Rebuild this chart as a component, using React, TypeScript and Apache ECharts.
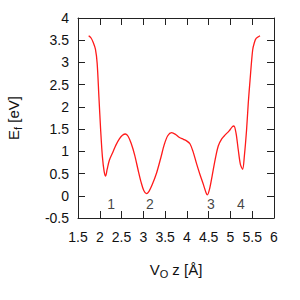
import React, { useEffect, useRef } from "react";
import * as echarts from "echarts";

const zValues = [
  1.745, 1.80, 1.85, 1.90, 1.94, 1.98, 2.02, 2.06, 2.10, 2.135, 2.17, 2.22, 2.30, 2.37, 2.45, 2.52,
  2.59, 2.65, 2.72, 2.80, 2.88, 2.95, 3.01, 3.07, 3.13, 3.20, 3.30, 3.40, 3.48, 3.56, 3.65, 3.74,
  3.83, 3.92, 4.00, 4.07, 4.14, 4.22, 4.30, 4.38, 4.44, 4.47, 4.52, 4.58, 4.65, 4.72, 4.80, 4.88,
  4.97, 5.04, 5.08, 5.13, 5.18, 5.23, 5.28, 5.32, 5.37, 5.41, 5.45, 5.51, 5.55, 5.59, 5.68,
];
const efValues = [
  3.6, 3.55, 3.45, 3.3, 2.98, 2.23, 1.48, 0.88, 0.55, 0.445, 0.6, 0.8, 0.98, 1.14, 1.28, 1.36,
  1.39, 1.34, 1.18, 0.92, 0.58, 0.3, 0.12, 0.05, 0.1, 0.24, 0.5, 0.85, 1.15, 1.35, 1.42, 1.38,
  1.31, 1.27, 1.23, 1.17, 1.0, 0.73, 0.48, 0.25, 0.07, 0.02, 0.15, 0.45, 0.82, 1.12, 1.28, 1.37,
  1.46, 1.55, 1.57, 1.40, 1.03, 0.7, 0.595, 0.9, 1.48, 2.1, 2.6, 3.28, 3.45, 3.54, 3.6,
];
const siteLabels = ["1", "2", "3", "4"];
const siteX = [2.26, 3.15, 4.55, 5.24];
const siteY = [-0.19, -0.19, -0.19, -0.19];

export default function App() {
  const ref = useRef<HTMLDivElement>(null);
  useEffect(() => {
    if (!ref.current) return;
    const chart = echarts.init(ref.current, null, { renderer: "svg" });
    const font = "Liberation Sans, Arial, sans-serif";
    const axisLine = { show: true, onZero: false, lineStyle: { color: "#222", width: 1 } };
    const tick = { show: true, inside: true, length: 7, lineStyle: { color: "#222" } };
    const nameRich = {
      m: { fontSize: 15, fontFamily: font, color: "#111" },
      s: { fontSize: 11, fontFamily: font, color: "#111", verticalAlign: "bottom", padding: [9, 0, 0, 0] },
    };
    chart.setOption({
      animation: false,
      grid: { left: 78, right: 26, top: 18, bottom: 82, containLabel: false, outerBoundsMode: "none" },
      xAxis: [
        {
          type: "value", min: 1.5, max: 6, interval: 0.5,
          axisLine, axisTick: tick, splitLine: { show: false },
          axisLabel: { color: "#111", fontSize: 14, fontFamily: font, margin: 12 },
          name: "{m|V}{s|O}{m| z [Å]}", nameLocation: "middle", nameGap: 41,
          nameTextStyle: { rich: nameRich },
        },
        {
          type: "value", min: 1.5, max: 6, interval: 0.5, position: "top",
          axisLine, axisTick: tick, axisLabel: { show: false }, splitLine: { show: false },
        },
      ],
      yAxis: [
        {
          type: "value", min: -0.5, max: 4, interval: 0.5,
          axisLine, axisTick: tick, splitLine: { show: false },
          axisLabel: { color: "#111", fontSize: 14, fontFamily: font, margin: 9 },
          name: "{m|E}{s|f}{m| [eV]}", nameLocation: "middle", nameGap: 55, nameRotate: 90,
          nameTextStyle: { rich: nameRich },
        },
        {
          type: "value", min: -0.5, max: 4, interval: 0.5, position: "right",
          axisLine, axisTick: tick, axisLabel: { show: false }, splitLine: { show: false },
        },
      ],
      series: [
        {
          type: "line",
          data: zValues.map((z, i) => [z, efValues[i]]),
          smooth: 0.3,
          showSymbol: false,
          lineStyle: { color: "#ff1a1a", width: 1.3 },
        },
        {
          type: "scatter",
          symbolSize: 0,
          data: siteX.map((x, i) => [x, siteY[i], siteLabels[i]]),
          label: {
            show: true, position: "inside", formatter: (p: any) => p.value[2],
            color: "#111", fontSize: 14, fontFamily: font,
          },
        },
      ],
    });
    return () => chart.dispose();
  }, []);
  return <div ref={ref} style={{ position: "absolute", left: 0, top: 0, width: 300, height: 300 }} />;
}
